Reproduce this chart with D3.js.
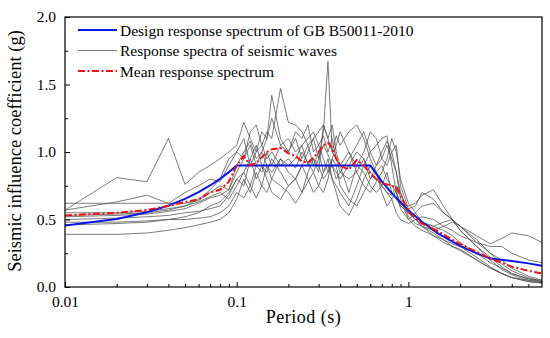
<!DOCTYPE html>
<html>
<head>
<meta charset="utf-8">
<script src="https://cdn.jsdelivr.net/npm/d3@7"></script>
<style>
  body { margin: 0; background: #fff; }
  svg text { font-family: "Palatino Linotype", "Book Antiqua", Palatino, "Liberation Serif", serif; fill: #000; }
</style>
</head>
<body>
<div id="chart"></div>
<script>
// Periods (s) shared by every seismic wave spectrum
const periods = [0.01, 0.02, 0.03, 0.04, 0.05, 0.06, 0.07, 0.08, 0.09,
  0.1, 0.11, 0.12, 0.13, 0.14, 0.15, 0.16, 0.18, 0.2, 0.22, 0.24, 0.26, 0.28, 0.3,
  0.32, 0.34, 0.36, 0.38, 0.4, 0.45, 0.5, 0.55, 0.6, 0.65, 0.7, 0.75, 0.8, 0.85, 0.9,
  1.0, 1.1, 1.2, 1.4, 1.6, 1.8, 2.0, 2.5, 3.0, 3.5, 4.0, 5.0, 6.0];

// Response spectra of the seismic waves (g)
const wave1 = [0.57, 0.81, 0.78, 1.1, 0.76, 0.85, 0.9, 0.95, 1.0,
  1.05, 1.22, 1.1, 1.0, 1.05, 0.95, 1.0, 0.9, 0.95, 0.88, 1.0, 0.92, 0.85, 0.95,
  1.05, 0.98, 0.9, 0.85, 0.8, 0.9, 1.0, 0.95, 0.85, 0.8, 0.75, 0.85, 0.7, 0.65, 0.6,
  0.55, 0.5, 0.47, 0.45, 0.42, 0.38, 0.33, 0.25, 0.18, 0.14, 0.1, 0.06, 0.04];
const wave2 = [0.62, 0.62, 0.62, 0.62, 0.62, 0.64, 0.7, 0.75, 0.72,
  0.85, 0.95, 1.05, 0.9, 1.0, 1.1, 1.42, 1.1, 1.0, 1.1, 0.95, 1.05, 0.9, 1.0,
  0.85, 0.95, 0.8, 0.75, 0.7, 0.6, 0.75, 0.9, 1.0, 1.05, 1.1, 1.12, 0.9, 0.7, 0.62,
  0.6, 0.62, 0.68, 0.72, 0.6, 0.5, 0.42, 0.3, 0.22, 0.15, 0.1, 0.06, 0.05];
const wave3 = [0.39, 0.39, 0.4, 0.42, 0.44, 0.46, 0.48, 0.5, 0.55,
  0.65, 0.8, 0.7, 0.85, 0.75, 0.9, 0.8, 0.95, 0.85, 0.8, 0.9, 1.0, 1.1, 0.95,
  1.15, 1.67, 1.0, 0.95, 0.85, 0.8, 0.85, 0.95, 0.8, 0.85, 0.75, 0.7, 0.65, 0.72, 0.6,
  0.55, 0.5, 0.45, 0.4, 0.35, 0.32, 0.3, 0.22, 0.15, 0.1, 0.07, 0.04, 0.03];
const wave4 = [0.57, 0.63, 0.68, 0.62, 0.7, 0.75, 0.8, 0.78, 0.9,
  1.0, 0.95, 1.15, 1.2, 1.05, 1.15, 1.1, 1.47, 1.22, 1.2, 1.15, 1.05, 1.1, 1.15,
  1.2, 1.1, 1.0, 1.12, 1.05, 1.15, 1.2, 1.1, 0.95, 0.85, 0.9, 0.8, 0.75, 0.7, 0.58,
  0.5, 0.55, 0.6, 0.62, 0.55, 0.5, 0.45, 0.33, 0.3, 0.3, 0.25, 0.2, 0.18];
const wave5 = [0.55, 0.55, 0.56, 0.58, 0.6, 0.63, 0.67, 0.7, 0.65,
  0.75, 0.85, 0.95, 0.8, 0.9, 0.85, 0.95, 0.85, 0.75, 0.8, 0.7, 0.85, 0.95, 0.9,
  0.8, 0.85, 0.95, 1.05, 1.15, 1.0, 0.85, 0.75, 0.7, 0.78, 0.85, 0.95, 1.1, 1.0, 0.8,
  0.62, 0.55, 0.48, 0.45, 0.48, 0.5, 0.45, 0.38, 0.32, 0.36, 0.4, 0.38, 0.33];
const wave6 = [0.53, 0.54, 0.55, 0.57, 0.6, 0.65, 0.72, 0.8, 0.95,
  1.0, 1.1, 0.9, 1.0, 1.15, 1.1, 1.25, 1.05, 1.1, 1.0, 1.05, 0.9, 0.95, 0.85,
  1.2, 1.1, 1.2, 1.0, 0.9, 0.7, 0.9, 1.0, 1.15, 1.1, 0.95, 0.9, 1.0, 1.05, 0.75,
  0.58, 0.6, 0.7, 0.65, 0.55, 0.5, 0.42, 0.3, 0.2, 0.13, 0.09, 0.05, 0.03];
const wave7 = [0.5, 0.51, 0.52, 0.53, 0.55, 0.56, 0.58, 0.6, 0.68,
  0.8, 0.75, 0.95, 1.05, 0.9, 0.8, 0.7, 0.65, 0.75, 0.8, 0.9, 0.8, 0.7, 0.75,
  0.85, 0.9, 0.8, 0.7, 0.6, 0.53, 0.65, 0.8, 0.9, 0.85, 0.7, 0.6, 0.65, 0.55, 0.5,
  0.47, 0.5, 0.52, 0.5, 0.45, 0.42, 0.38, 0.33, 0.25, 0.2, 0.14, 0.08, 0.05];
const wave8 = [0.48, 0.48, 0.49, 0.5, 0.5, 0.51, 0.52, 0.55, 0.6,
  0.7, 0.66, 0.75, 0.9, 0.85, 1.0, 0.9, 1.05, 1.0, 1.15, 1.1, 1.2, 1.0, 1.05,
  1.12, 1.0, 1.1, 0.95, 0.9, 1.0, 0.9, 0.85, 0.75, 0.7, 0.75, 0.7, 0.68, 0.75, 0.7,
  0.52, 0.47, 0.45, 0.42, 0.45, 0.48, 0.45, 0.35, 0.25, 0.17, 0.12, 0.07, 0.04];
const wave9 = [0.52, 0.53, 0.54, 0.56, 0.58, 0.62, 0.66, 0.68, 0.72,
  0.9, 1.0, 1.08, 0.95, 1.0, 0.9, 0.85, 0.95, 0.9, 0.95, 1.05, 1.1, 1.15, 1.05,
  0.95, 0.85, 0.9, 0.8, 0.85, 0.95, 1.05, 1.15, 1.0, 0.9, 0.95, 1.05, 0.95, 0.85, 0.7,
  0.55, 0.5, 0.45, 0.38, 0.35, 0.3, 0.28, 0.2, 0.14, 0.1, 0.07, 0.05, 0.04];
const wave10 = [0.46, 0.47, 0.48, 0.5, 0.52, 0.55, 0.6, 0.63, 0.7,
  0.8, 0.85, 0.75, 0.66, 0.75, 0.7, 0.8, 0.75, 0.7, 0.62, 0.7, 0.78, 0.85, 0.75,
  0.7, 0.8, 0.95, 0.9, 0.75, 0.65, 0.6, 0.7, 0.8, 0.9, 1.0, 1.08, 1.0, 0.85, 0.65,
  0.5, 0.45, 0.42, 0.38, 0.33, 0.3, 0.27, 0.2, 0.14, 0.1, 0.07, 0.04, 0.03];
const waves = [wave1, wave2, wave3, wave4, wave5, wave6, wave7, wave8, wave9, wave10];

// Mean response spectrum (g)
const meanSpectrum = [0.53, 0.55, 0.57, 0.6, 0.63, 0.65, 0.7, 0.72, 0.78,
  0.9, 0.97, 0.9, 0.92, 0.96, 1.0, 1.02, 1.03, 0.99, 0.97, 0.93, 0.92, 0.96, 1.0,
  1.05, 1.07, 1.03, 0.95, 0.9, 0.87, 0.94, 0.9, 0.84, 0.8, 0.77, 0.76, 0.75, 0.74, 0.68,
  0.56, 0.51, 0.47, 0.43, 0.39, 0.35, 0.32, 0.26, 0.21, 0.18, 0.15, 0.12, 0.1];

// Design response spectrum of GB 50011-2010
const designPeriods = [0.01, 0.02, 0.03, 0.04, 0.05, 0.06, 0.07, 0.08, 0.09, 0.1,
  0.6, 0.7, 0.8, 0.9, 1.0, 1.2, 1.5, 2.0, 2.5, 3.0, 4.0, 5.0, 6.0];
const designValues = [0.455, 0.504, 0.554, 0.603, 0.653, 0.702, 0.752, 0.801, 0.851, 0.9,
  0.9, 0.783, 0.695, 0.627, 0.568, 0.483, 0.394, 0.304, 0.249, 0.211, 0.193, 0.175, 0.157];

const xTicks = [0.01, 0.1, 1];
const xMinorTicks = [0.02, 0.03, 0.04, 0.05, 0.06, 0.07, 0.08, 0.09,
  0.2, 0.3, 0.4, 0.5, 0.6, 0.7, 0.8, 0.9, 2, 3, 4, 5];
const yTicks = [0, 0.5, 1.0, 1.5, 2.0];
const yMinorTicks = [0.25, 0.75, 1.25, 1.75];

const legendLabels = ["Design response spectrum of GB B50011-2010",
  "Response spectra of seismic waves", "Mean response spectrum"];

// Chart dimensions
const W = 550, H = 338;
const margin = { top: 17, right: 8, bottom: 51, left: 65 };
const width = W - margin.left - margin.right;
const height = H - margin.top - margin.bottom;

const svg = d3.select("#chart").append("svg")
  .attr("width", W).attr("height", H);
const g = svg.append("g")
  .attr("transform", "translate(" + margin.left + "," + margin.top + ")");

const x = d3.scaleLog().domain([0.01, 6]).range([0, width]);
const y = d3.scaleLinear().domain([0, 2]).range([height, 0]);

// Clip the curves to the plot box
g.append("clipPath").attr("id", "plotClip")
  .append("rect").attr("width", width).attr("height", height);

const line = d3.line()
  .x(d => x(d[0]))
  .y(d => y(d[1]));

const curves = g.append("g").attr("clip-path", "url(#plotClip)");

waves.forEach(function (w) {
  curves.append("path")
    .attr("d", line(periods.map((p, i) => [p, w[i]])))
    .attr("fill", "none")
    .attr("stroke", "#505050")
    .attr("stroke-width", 0.75);
});

curves.append("path")
  .attr("d", line(designPeriods.map((p, i) => [p, designValues[i]])))
  .attr("fill", "none")
  .attr("stroke", "#0a14e6")
  .attr("stroke-width", 2);

curves.append("path")
  .attr("d", line(periods.map((p, i) => [p, meanSpectrum[i]])))
  .attr("fill", "none")
  .attr("stroke", "#ee1111")
  .attr("stroke-width", 2)
  .attr("stroke-dasharray", "7,2.5,2,2.5");

// Axes: ticks point into the plot
const xAxis = d3.axisBottom(x).tickValues(xTicks).tickSize(-5).tickPadding(9)
  .tickFormat(d3.format(""));
const xMinor = d3.axisBottom(x).tickValues(xMinorTicks).tickSize(-3).tickFormat("");
const yAxis = d3.axisLeft(y).tickValues(yTicks).tickSize(-5).tickPadding(9)
  .tickFormat(d3.format(".1f"));
const yMinor = d3.axisLeft(y).tickValues(yMinorTicks).tickSize(-3).tickFormat("");

function styleAxis(sel) {
  sel.select(".domain").remove();
  sel.selectAll("line").attr("stroke", "#000").attr("stroke-width", 1);
  sel.selectAll("text").style("font-size", "15.5px").attr("fill", "#000");
}

g.append("g").attr("transform", "translate(0," + height + ")").call(xAxis).call(styleAxis);
g.append("g").attr("transform", "translate(0," + height + ")").call(xMinor).call(styleAxis);
g.append("g").call(yAxis).call(styleAxis);
g.append("g").call(yMinor).call(styleAxis);

// Frame
g.append("rect")
  .attr("width", width).attr("height", height)
  .attr("fill", "none").attr("stroke", "#000").attr("stroke-width", 1.2);

// Axis titles
svg.append("text")
  .attr("x", margin.left + width / 2).attr("y", 323)
  .attr("text-anchor", "middle")
  .style("font-size", "18px")
  .style("letter-spacing", "0.5px")
  .text("Period (s)");

svg.append("text")
  .attr("transform", "translate(21," + (margin.top + height / 2 - 1) + ") rotate(-90)")
  .attr("text-anchor", "middle")
  .style("font-size", "18.5px")
  .text("Seismic influence coefficient (g)");

// Legend
const legendStyles = [
  { stroke: "#0a14e6", width: 2, dash: null },
  { stroke: "#505050", width: 0.75, dash: null },
  { stroke: "#ee1111", width: 2, dash: "7,2.5,2,2.5" }
];
const legend = g.append("g").attr("transform", "translate(13,13)");
legendLabels.forEach(function (label, i) {
  const row = legend.append("g").attr("transform", "translate(0," + (i * 20.5) + ")");
  row.append("line")
    .attr("x1", 0).attr("x2", 39).attr("y1", 0).attr("y2", 0)
    .attr("stroke", legendStyles[i].stroke)
    .attr("stroke-width", legendStyles[i].width)
    .attr("stroke-dasharray", legendStyles[i].dash);
  row.append("text")
    .attr("x", 42).attr("y", 5.5)
    .style("font-size", "15.5px")
    .text(label);
});
</script>
</body>
</html>
